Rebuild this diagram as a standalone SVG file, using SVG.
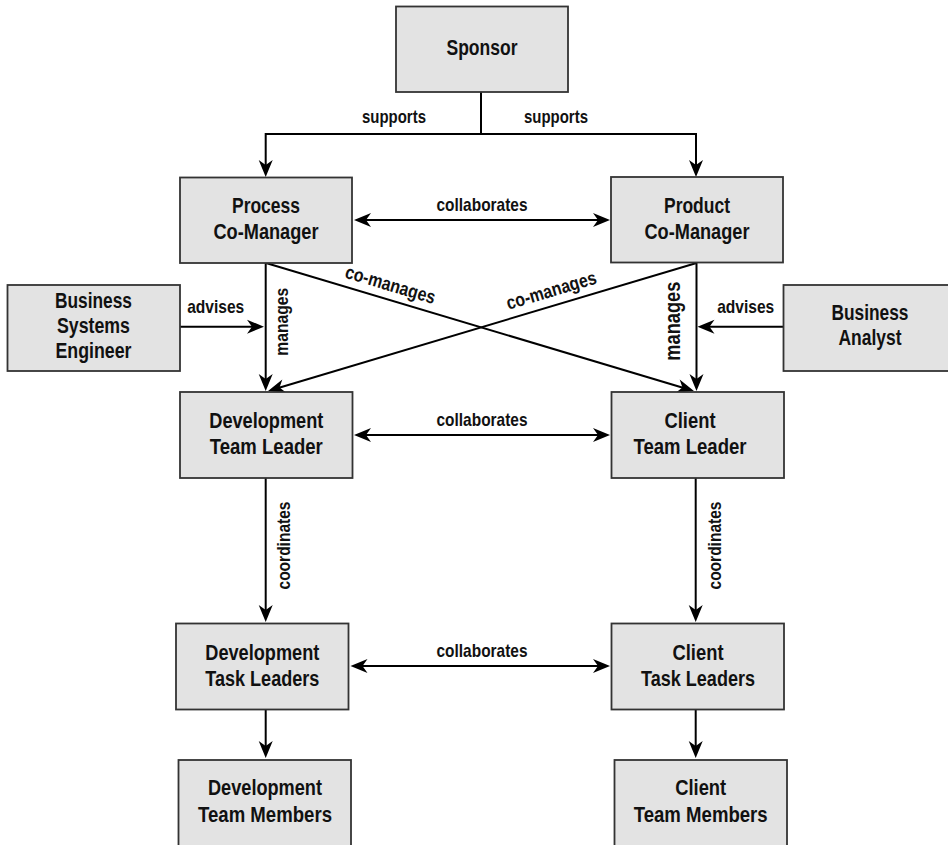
<svg xmlns="http://www.w3.org/2000/svg" width="948" height="845" viewBox="0 0 948 845">
<defs>
<style>
.box{fill:#e3e3e3;stroke:#333;stroke-width:1.8}
.nt{font-family:"Liberation Sans",Arial,sans-serif;font-weight:bold;font-size:22px;fill:#111;text-anchor:middle}
.lb{font-family:"Liberation Sans",Arial,sans-serif;font-weight:bold;font-size:19px;fill:#111;text-anchor:middle}
.c{fill:none;stroke:#000;stroke-width:2}
.a{marker-end:url(#ah)}
.d{marker-start:url(#ah);marker-end:url(#ah)}
</style>
<marker id="ah" markerUnits="userSpaceOnUse" viewBox="-10 -8 19 16" refX="0" refY="0" markerWidth="19" markerHeight="16" orient="auto-start-reverse">
<path d="M8,0 L-9,-7 L-4,0 L-9,7 Z" fill="#000"/>
</marker>
</defs>
<rect width="948" height="845" fill="#fff"/>
<g id="connectors">
<path class="c a" d="M481,92 V134 H265.7 V169"/>
<path class="c a" d="M481,134 H696 V169"/>
<path class="c d" d="M362,220 H602"/>
<path class="c a" d="M265.7,263 V383"/>
<path class="c a" d="M696.5,262.5 V383"/>
<path class="c a" d="M266,263 L686.3,388.7"/>
<path class="c a" d="M696.5,263 L275.7,388.7"/>
<path class="c a" d="M180,326.7 H256"/>
<path class="c a" d="M783.5,326.7 H705.5"/>
<path class="c d" d="M362,435 H602"/>
<path class="c a" d="M265.7,478 V614"/>
<path class="c a" d="M695.7,478 V614"/>
<path class="c d" d="M358.5,666 H602"/>
<path class="c a" d="M265.7,709.5 V750"/>
<path class="c a" d="M695.7,709.5 V750"/>
<text class="lb" x="394" y="123" textLength="64" lengthAdjust="spacingAndGlyphs">supports</text>
<text class="lb" x="556" y="123" textLength="64" lengthAdjust="spacingAndGlyphs">supports</text>
<text class="lb" x="482" y="211" textLength="91" lengthAdjust="spacingAndGlyphs">collaborates</text>
<text class="lb" x="482" y="426" textLength="91" lengthAdjust="spacingAndGlyphs">collaborates</text>
<text class="lb" x="482" y="657" textLength="91" lengthAdjust="spacingAndGlyphs">collaborates</text>
<text class="lb" x="215.7" y="313" textLength="57" lengthAdjust="spacingAndGlyphs">advises</text>
<text class="lb" x="745.7" y="313" textLength="57" lengthAdjust="spacingAndGlyphs">advises</text>
<text class="lb" transform="translate(287.5,321.7) rotate(-90)" textLength="68" lengthAdjust="spacingAndGlyphs">manages</text>
<text class="lb" style="font-size:22px" transform="translate(680.4,321.2) rotate(-90)" textLength="79" lengthAdjust="spacingAndGlyphs">manages</text>
<text class="lb" transform="translate(290,545.5) rotate(-90)" textLength="88" lengthAdjust="spacingAndGlyphs">coordinates</text>
<text class="lb" transform="translate(720.5,545.5) rotate(-90)" textLength="88" lengthAdjust="spacingAndGlyphs">coordinates</text>
<text class="lb" transform="translate(390,286) rotate(16.6)" y="5" textLength="93" lengthAdjust="spacingAndGlyphs">co-manages</text>
<text class="lb" transform="translate(551.7,291.7) rotate(-16.6)" y="5" textLength="93" lengthAdjust="spacingAndGlyphs">co-manages</text>
</g>
<g id="sponsor"><rect class="box" x="396" y="6.5" width="172" height="85.5"/><text class="nt" x="482" y="55" textLength="71" lengthAdjust="spacingAndGlyphs">Sponsor</text></g>
<g id="process-co-manager"><rect class="box" x="180" y="177.5" width="172" height="85.5"/><text class="nt" x="266" y="213" textLength="68" lengthAdjust="spacingAndGlyphs">Process</text><text class="nt" x="266" y="239" textLength="105" lengthAdjust="spacingAndGlyphs">Co-Manager</text></g>
<g id="product-co-manager"><rect class="box" x="611" y="177" width="172" height="85.5"/><text class="nt" x="697" y="213" textLength="66" lengthAdjust="spacingAndGlyphs">Product</text><text class="nt" x="697" y="239" textLength="105" lengthAdjust="spacingAndGlyphs">Co-Manager</text></g>
<g id="business-systems-engineer"><rect class="box" x="7.5" y="285" width="172.5" height="86"/><text class="nt" x="93.5" y="308" textLength="77" lengthAdjust="spacingAndGlyphs">Business</text><text class="nt" x="93.5" y="333" textLength="73" lengthAdjust="spacingAndGlyphs">Systems</text><text class="nt" x="93.5" y="358" textLength="76" lengthAdjust="spacingAndGlyphs">Engineer</text></g>
<g id="business-analyst"><rect class="box" x="783.5" y="285" width="175" height="86"/><text class="nt" x="870" y="320" textLength="77" lengthAdjust="spacingAndGlyphs">Business</text><text class="nt" x="870" y="345" textLength="63" lengthAdjust="spacingAndGlyphs">Analyst</text></g>
<g id="development-team-leader"><rect class="box" x="180" y="392" width="172.5" height="86"/><text class="nt" x="266.3" y="428" textLength="114" lengthAdjust="spacingAndGlyphs">Development</text><text class="nt" x="266.3" y="454" textLength="113" lengthAdjust="spacingAndGlyphs">Team Leader</text></g>
<g id="client-team-leader"><rect class="box" x="611.5" y="392" width="172.5" height="86"/><text class="nt" x="690" y="428" textLength="51" lengthAdjust="spacingAndGlyphs">Client</text><text class="nt" x="690" y="454" textLength="113" lengthAdjust="spacingAndGlyphs">Team Leader</text></g>
<g id="development-task-leaders"><rect class="box" x="176" y="623.5" width="172.5" height="86"/><text class="nt" x="262.3" y="660" textLength="114" lengthAdjust="spacingAndGlyphs">Development</text><text class="nt" x="262.3" y="686" textLength="114" lengthAdjust="spacingAndGlyphs">Task Leaders</text></g>
<g id="client-task-leaders"><rect class="box" x="611.5" y="623.5" width="172.5" height="86"/><text class="nt" x="698" y="660" textLength="51" lengthAdjust="spacingAndGlyphs">Client</text><text class="nt" x="698" y="686" textLength="114" lengthAdjust="spacingAndGlyphs">Task Leaders</text></g>
<g id="development-team-members"><rect class="box" x="178.5" y="760" width="172.5" height="86"/><text class="nt" x="265" y="795" textLength="114" lengthAdjust="spacingAndGlyphs">Development</text><text class="nt" x="265" y="821.7" textLength="134" lengthAdjust="spacingAndGlyphs">Team Members</text></g>
<g id="client-team-members"><rect class="box" x="614.5" y="760" width="172.5" height="86"/><text class="nt" x="700.7" y="795" textLength="51" lengthAdjust="spacingAndGlyphs">Client</text><text class="nt" x="700.7" y="821.7" textLength="134" lengthAdjust="spacingAndGlyphs">Team Members</text></g>
</svg>
